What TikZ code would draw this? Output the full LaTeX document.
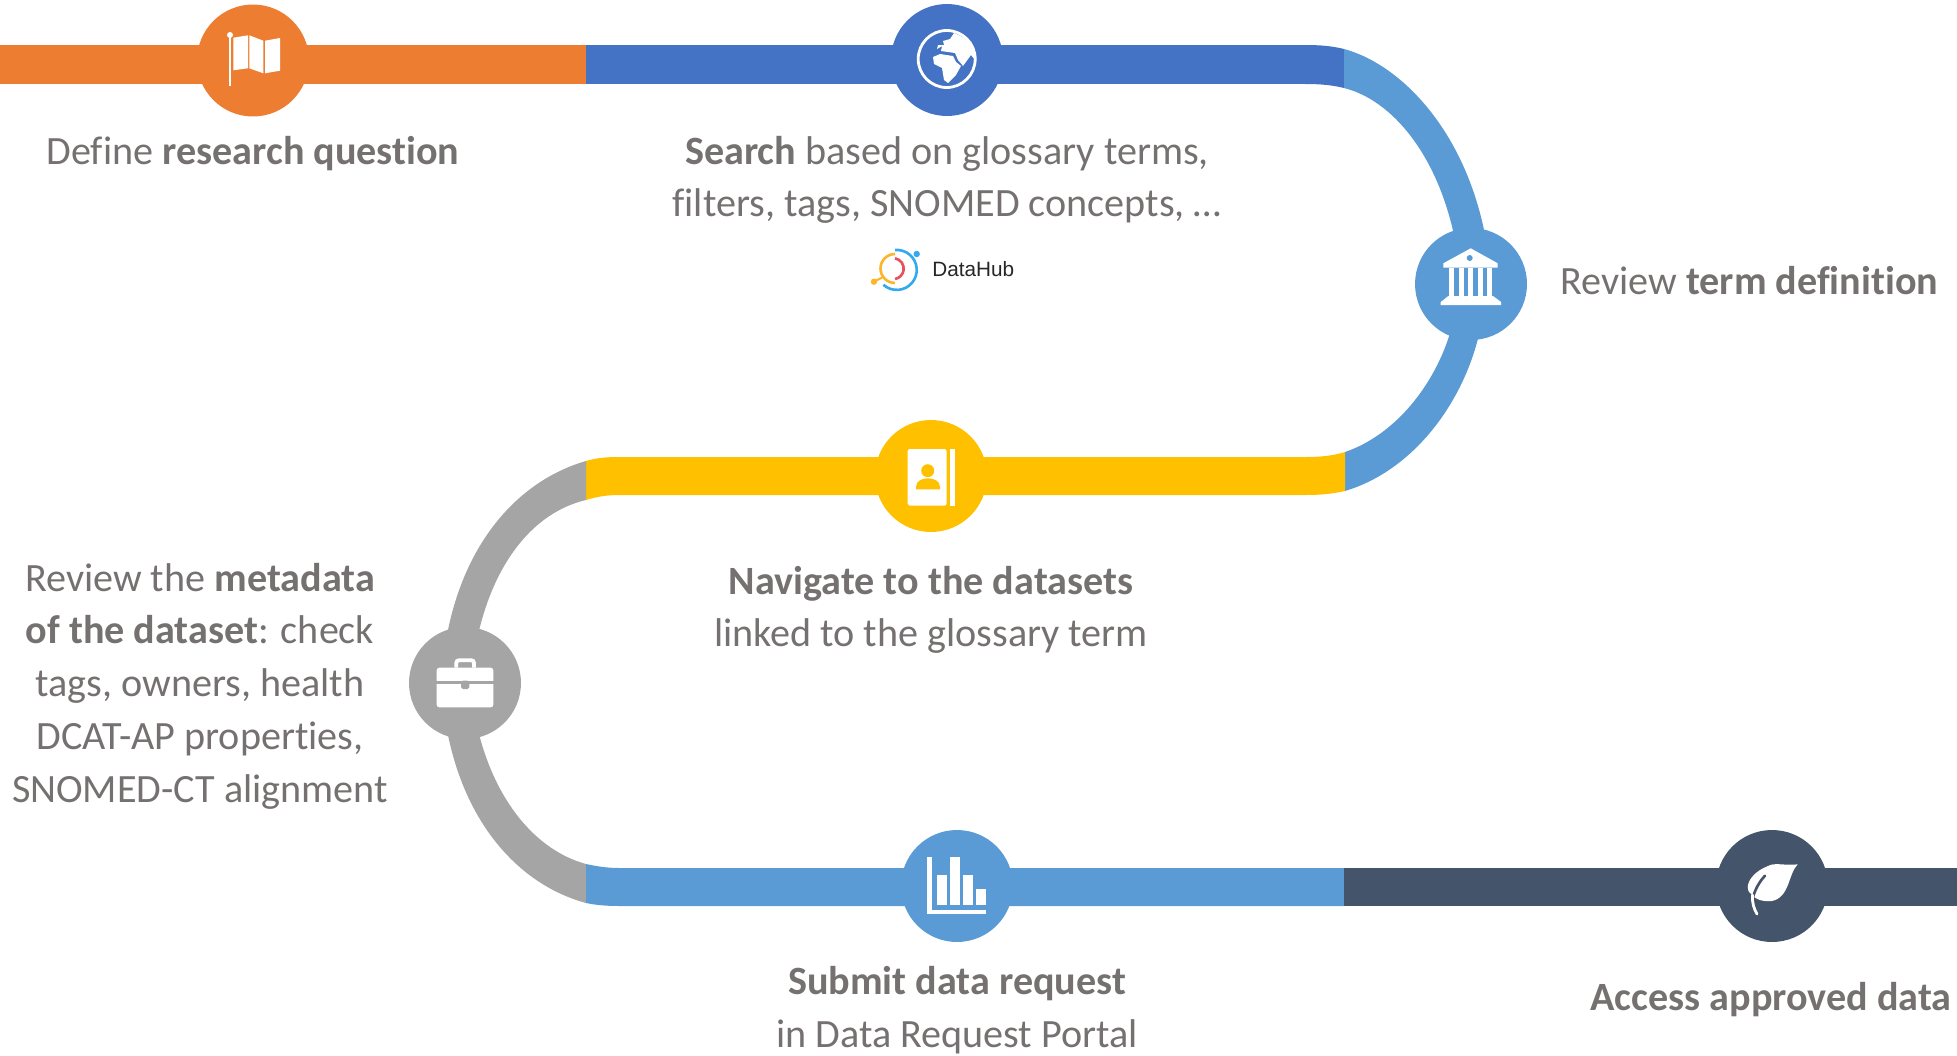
\documentclass[tikz,border=0pt]{standalone}
\usepackage{fontspec}
\setmainfont[Ligatures=NoCommon]{Carlito}
\newfontfamily\logofont{Liberation Sans}
\definecolor{stepOrange}{HTML}{ED7D31}
\definecolor{stepBlue}{HTML}{4472C4}
\definecolor{stepSky}{HTML}{5B9BD5}
\definecolor{stepYellow}{HTML}{FFC000}
\definecolor{stepGrey}{HTML}{A5A5A5}
\definecolor{stepDark}{HTML}{44546A}
\definecolor{stepText}{HTML}{767171}
\definecolor{logoBlue}{HTML}{33A9F0}
\definecolor{logoYellow}{HTML}{FBB62C}
\definecolor{logoRed}{HTML}{E8505B}

\begin{document}
\begin{tikzpicture}[x=0.02cm, y=-0.02cm,
	stopnode/.style={circle, minimum size=2.24cm, inner sep=0pt},
	steplabel/.style={text=stepText, align=center, inner sep=0pt, font=\fontsize{22.85}{30}\selectfont},
	icon/.style={fill=white, draw=none}]
	\useasboundingbox (0,0) rectangle (1957,1055);

	% top line
	\fill[stepOrange] (0,45) rectangle (586,84);
	\fill[stepBlue] (586,45) rectangle (1310,84);
	\fill[stepBlue] (1305,45) .. controls (1320,45) and (1332,46) .. (1344,49) -- (1344,88) .. controls (1332,85) and (1320,84) .. (1305,84) -- cycle;
	\fill[stepSky] (1344,49) .. controls (1400,64) and (1466,130) .. (1486,240) -- (1455,240) .. controls (1438,155) and (1392,100) .. (1344,88) -- cycle;
	\fill[stepSky] (1480,330) .. controls (1465,400) and (1415,470) .. (1345,491) -- (1345,452) .. controls (1395,435) and (1435,385) .. (1451,330) -- cycle;

	% middle line
	\fill[stepYellow] (586,461) .. controls (596,458) and (605,457) .. (620,457) -- (1305,457) .. controls (1320,457) and (1332,456) .. (1345,452) -- (1345,491) .. controls (1332,494) and (1320,495) .. (1305,495) -- (620,495) .. controls (605,495) and (596,497) .. (586,500) -- cycle;
	\fill[stepGrey] (586,461) .. controls (520,480) and (465,540) .. (447,635) -- (478,635) .. controls (495,560) and (535,512) .. (586,500) -- cycle;
	\fill[stepGrey] (447,730) .. controls (465,825) and (520,885) .. (586,903) -- (586,864) .. controls (535,850) and (495,800) .. (478,730) -- cycle;

	% bottom line
	\fill[stepSky] (586,864) .. controls (596,866) and (605,868) .. (620,868) -- (1344,868) -- (1344,906) -- (620,906) .. controls (605,906) and (596,905) .. (586,903) -- cycle;
	\fill[stepDark] (1344,868) rectangle (1957,906);

	\node[stopnode, fill=stepOrange] (question) at (253,60.5) {};
	\node[stopnode, fill=stepBlue] (search) at (947,60) {};
	\node[stopnode, fill=stepSky] (term) at (1471,284) {};
	\node[stopnode, fill=stepYellow] (datasets) at (931,476) {};
	\node[stopnode, fill=stepGrey] (metadata) at (465,683) {};
	\node[stopnode, fill=stepSky] (request) at (957,886) {};
	\node[stopnode, fill=stepDark] (access) at (1772,886) {};

	% map
	\fill[icon] (228.8,35) rectangle (231,86);
	\fill[icon] (230,35) circle (3);
	\fill[icon] (233.3,37.7) -- (248,35.3) -- (248,68.3) -- (233.3,70.3) -- cycle;
	\fill[icon] (249.3,35.3) -- (263.3,40.7) -- (263.3,73.3) -- (249.3,68.3) -- cycle;
	\fill[icon] (265,40.7) -- (280,38) -- (280,70.7) -- (265,73.3) -- cycle;

	% globe
	\draw[white, line width=1.6pt] (946.7,59) circle (28.5);
	\fill[icon] (954,33) -- (950,39) -- (943,41) -- (944,45) -- (938,45) -- (937,49) -- (942,46) -- (941,51) -- (955,53) -- (958,60) -- (963,66) -- (971,55) -- (975,60) .. controls (976,48) and (968,38) .. (954,33) -- cycle;
	\fill[icon] (933,57) -- (940,54) -- (953,56) -- (956,62) -- (961,66) -- (956,75) -- (948,83) -- (944,80) -- (942,68) -- (934,64) -- cycle;

	% temple
	\fill[icon] (1470.7,248.3) -- (1443.3,263.3) -- (1443.3,267.7) -- (1497.7,267.7) -- (1497.7,263.3) -- cycle;
	\fill[stepSky] (1469.7,258) circle (3);
	\foreach \colx in {1449,1458.7,1468.3,1478,1487.3}
		\fill[icon] (\colx,268) rectangle +(4.8,28);
	\fill[icon] (1448.3,296) -- (1493,296) -- (1501,302) -- (1501,305) -- (1440.7,305) -- (1440.7,302) -- cycle;

	% contact book
	\fill[icon, rounded corners=1pt] (907.7,449) rectangle (946.7,505.7);
	\fill[icon] (950,449) rectangle (955,505.7);
	\fill[stepYellow] (927.7,470.7) circle (6.5);
	\fill[stepYellow] (916,489.3) -- (916,487) .. controls (916,481) and (922,478.3) .. (928,478.3) .. controls (934,478.3) and (940,481) .. (940,487) -- (940,489.3) -- cycle;

	% briefcase
	\fill[icon, rounded corners=1.5pt] (436.7,667.7) rectangle (493.3,707.3);
	\fill[stepGrey] (436,681) rectangle (494,683.5);
	\fill[stepGrey, rounded corners=1pt] (461,680.7) rectangle (469.3,689);
	\draw[white, line width=2.2pt, rounded corners=1.5pt] (456.3,667.7) -- (456.3,660.3) -- (474,660.3) -- (474,667.7);

	% chart
	\fill[icon] (927.3,856.7) rectangle (932.3,914.3);
	\fill[icon] (927.3,910) rectangle (986,914.3);
	\fill[icon] (936.7,875) rectangle (946.7,905);
	\fill[icon] (950,856.7) rectangle (960,905);
	\fill[icon] (963,875) rectangle (973,905);
	\fill[icon] (976,889) rectangle (986,905);

	% leaf
	\fill[icon] (1797.7,864.3) .. controls (1785,866) and (1775,862) .. (1768,866) .. controls (1755,871) and (1748,880) .. (1747.7,887) .. controls (1748,891) and (1749,893) .. (1751.7,894.5) .. controls (1755,899) and (1762,902) .. (1772,901) .. controls (1790,897) and (1788,874) .. (1797.7,864.3) -- cycle;
	\draw[stepDark, line width=1.5pt, line cap=round] (1765,875.7) .. controls (1759,882) and (1755,890) .. (1753,897);
	\draw[white, line width=1.6pt, line cap=round] (1752.5,895) .. controls (1752,903) and (1754,909) .. (1757,914);

	% logo
	\draw[logoBlue, line width=1.5pt] (895,250) arc[start angle=95, end angle=-132, radius=0.4cm];
	\fill[logoBlue] (916.7,254) circle (3.2);
	\draw[logoYellow, line width=1.5pt] (895,254) arc[start angle=90, end angle=270, radius=0.29cm];
	\draw[logoYellow, line width=1.2pt] (874,281.7) -- (883,277);
	\fill[logoYellow] (874,281.7) circle (3.2);
	\draw[logoRed, line width=1.5pt] (895,258.3) arc[start angle=80, end angle=-80, radius=0.21cm];
	\node[inner sep=0pt, anchor=west, text=black!85, font=\logofont\fontsize{11.8}{14}\selectfont] (logotext) at (932,269) {DataHub};

	% texts
	\node[steplabel] (questiontext) at (253,154) {Define \textbf{research question}};
	\node[steplabel] (searchtext) at (947,180) {\textbf{Search} based on glossary terms,\\filters, tags, SNOMED concepts, \ldots};
	\node[steplabel, anchor=west] (termtext) at (1560,281) {Review \textbf{term definition}};
	\node[steplabel] (datasetstext) at (931,610) {\textbf{Navigate to the datasets}\\linked to the glossary term};
	\node[steplabel] (metadatatext) at (200,686) {Review the \textbf{metadata}\\\textbf{of the dataset}: check\\tags, owners, health\\DCAT-AP properties,\\SNOMED-CT alignment};
	\node[steplabel] (requesttext) at (957,1010) {\textbf{Submit data request}\\in Data Request Portal};
	\node[steplabel] (accesstext) at (1771,1000) {\textbf{Access approved data}};
\end{tikzpicture}
\end{document}
